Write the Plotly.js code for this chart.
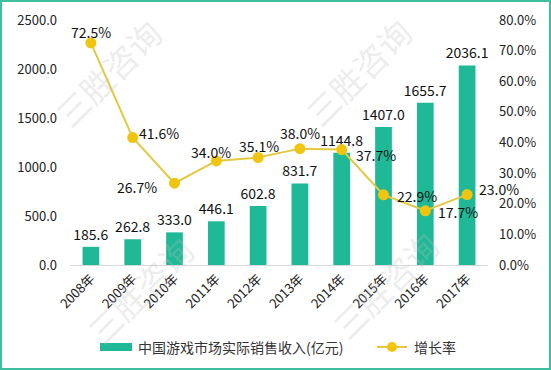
<!DOCTYPE html>
<html>
<head>
<meta charset="utf-8">
<script src="https://cdn.plot.ly/plotly-3.0.1.min.js"></script>
<style>
html,body{margin:0;padding:0;background:#fff;}
#wrap{position:relative;width:551px;height:370px;}
#chart{width:551px;height:370px;}
#frame{position:absolute;left:0;top:0;width:551px;height:370px;box-sizing:border-box;border:2px solid #3dbf9f;pointer-events:none;}
</style>
</head>
<body>
<div id="wrap"><div id="chart"></div><div id="frame"></div></div>
<script>
var years = ['2008年','2009年','2010年','2011年','2012年','2013年','2014年','2015年','2016年','2017年'];
var revenue = [185.6, 262.8, 333.0, 446.1, 602.8, 831.7, 1144.8, 1407.0, 1655.7, 2036.1];
var growth = [72.5, 41.6, 26.7, 34.0, 35.1, 38.0, 37.7, 22.9, 17.7, 23.0];
var leftTicks = [0, 500, 1000, 1500, 2000, 2500];
var rightTicks = [0, 10, 20, 30, 40, 50, 60, 70, 80];
var seriesNames = ['中国游戏市场实际销售收入(亿元)', '增长率'];
var watermarkText = '三胜咨询';

// label placement for the growth labels: [xanchor, xshift, yshift]
var growthLabelPlace = [
  ['center', 0, 11], ['left', 5, 5], ['right', -17, -4], ['center', -5, 9], ['center', 1, 12],
  ['center', 0, 16], ['left', 13, -5], ['left', 12, -1], ['left', 12, -1], ['left', 11, 6]
];

var FONT = '"Noto Sans CJK SC", "Noto Sans", sans-serif';
var barColor = '#1fb997';
var lineColor = '#e3c941';
var markerColor = '#f1c40f';

var bars = {
  type: 'bar', x: years, y: revenue, name: seriesNames[0],
  marker: {color: barColor}, width: 0.4,
  text: revenue.map(function(v){return v.toFixed(1);}),
  textposition: 'outside', cliponaxis: false, constraintext: 'none',
  textfont: {family: FONT, size: 14, color: '#111'},
  showlegend: false, hoverinfo: 'none'
};
var line = {
  type: 'scatter', mode: 'lines+markers', x: years, y: growth, yaxis: 'y2',
  name: seriesNames[1],
  line: {color: lineColor, width: 2},
  marker: {color: markerColor, size: 11},
  cliponaxis: false,
  showlegend: false, hoverinfo: 'none'
};

function px(x){return (x-70)/418;}
function py(y){return (265-y)/245;}
var wmColor = 'rgba(190,190,190,0.28)';
var wmSpots = [[108,73],[358,72],[140,290],[385,285]];
var annotations = [];
wmSpots.forEach(function(s){
  annotations.push({xref: 'paper', yref: 'paper', x: px(s[0]), y: py(s[1]), xanchor: 'center', yanchor: 'middle', showarrow: false, textangle: -45, text: watermarkText, font: {family: FONT, size: 33, color: wmColor}});
});
growth.forEach(function(g, i){
  var p = growthLabelPlace[i];
  annotations.push({xref: 'x', yref: 'y2', x: years[i], y: g, xanchor: p[0], yanchor: 'middle',
    xshift: p[1], yshift: p[2], showarrow: false, borderpad: 0,
    text: g.toFixed(1) + '%', font: {family: FONT, size: 14, color: '#111'}});
});
annotations.push(
  {xref: 'paper', yref: 'paper', x: px(136), y: py(347), xanchor: 'left', yanchor: 'middle', showarrow: false, text: seriesNames[0], font: {family: FONT, size: 14, color: '#333'}},
  {xref: 'paper', yref: 'paper', x: px(412), y: py(347), xanchor: 'left', yanchor: 'middle', showarrow: false, text: seriesNames[1], font: {family: FONT, size: 14, color: '#333'}}
);

var layout = {
  width: 551, height: 370,
  margin: {l: 70, r: 63, t: 20, b: 105},
  paper_bgcolor: '#fff', plot_bgcolor: 'rgba(0,0,0,0)',
  font: {family: FONT, color: '#333'},
  bargap: 0.6,
  xaxis: {
    type: 'category', range: [-0.5, years.length - 0.5], tickangle: -45, showgrid: false, zeroline: false, automargin: false,
    showline: true, linecolor: '#d9d9d9', linewidth: 1, ticks: '',
    tickfont: {family: FONT, size: 13, color: '#222'}
  },
  yaxis: {
    range: [0, 2500], tickvals: leftTicks, automargin: false,
    ticktext: leftTicks.map(function(v){return v.toFixed(1);}),
    showgrid: false, zeroline: false, showline: false, ticks: '', ticklabelstandoff: 12,
    tickfont: {family: FONT, size: 13, color: '#222'}
  },
  yaxis2: {
    range: [0, 80], overlaying: 'y', side: 'right', tickvals: rightTicks, automargin: false,
    ticktext: rightTicks.map(function(v){return v.toFixed(1) + '%';}),
    showgrid: false, zeroline: false, showline: false, ticks: '', ticklabelstandoff: 10,
    tickfont: {family: FONT, size: 13, color: '#222'}
  },
  shapes: [
    {type: 'rect', xref: 'paper', yref: 'paper', x0: px(100), x1: px(132), y0: py(343), y1: py(351), fillcolor: barColor, line: {width: 0}},
    {type: 'line', xref: 'paper', yref: 'paper', x0: px(377), x1: px(407), y0: py(347), y1: py(347), line: {color: lineColor, width: 2}},
    {type: 'circle', xref: 'paper', yref: 'paper', x0: px(387), x1: px(397), y0: py(342), y1: py(352), fillcolor: markerColor, line: {width: 0}}
  ],
  annotations: annotations
};

Plotly.newPlot('chart', [bars, line], layout, {staticPlot: true, displayModeBar: false});
</script>
</body>
</html>
